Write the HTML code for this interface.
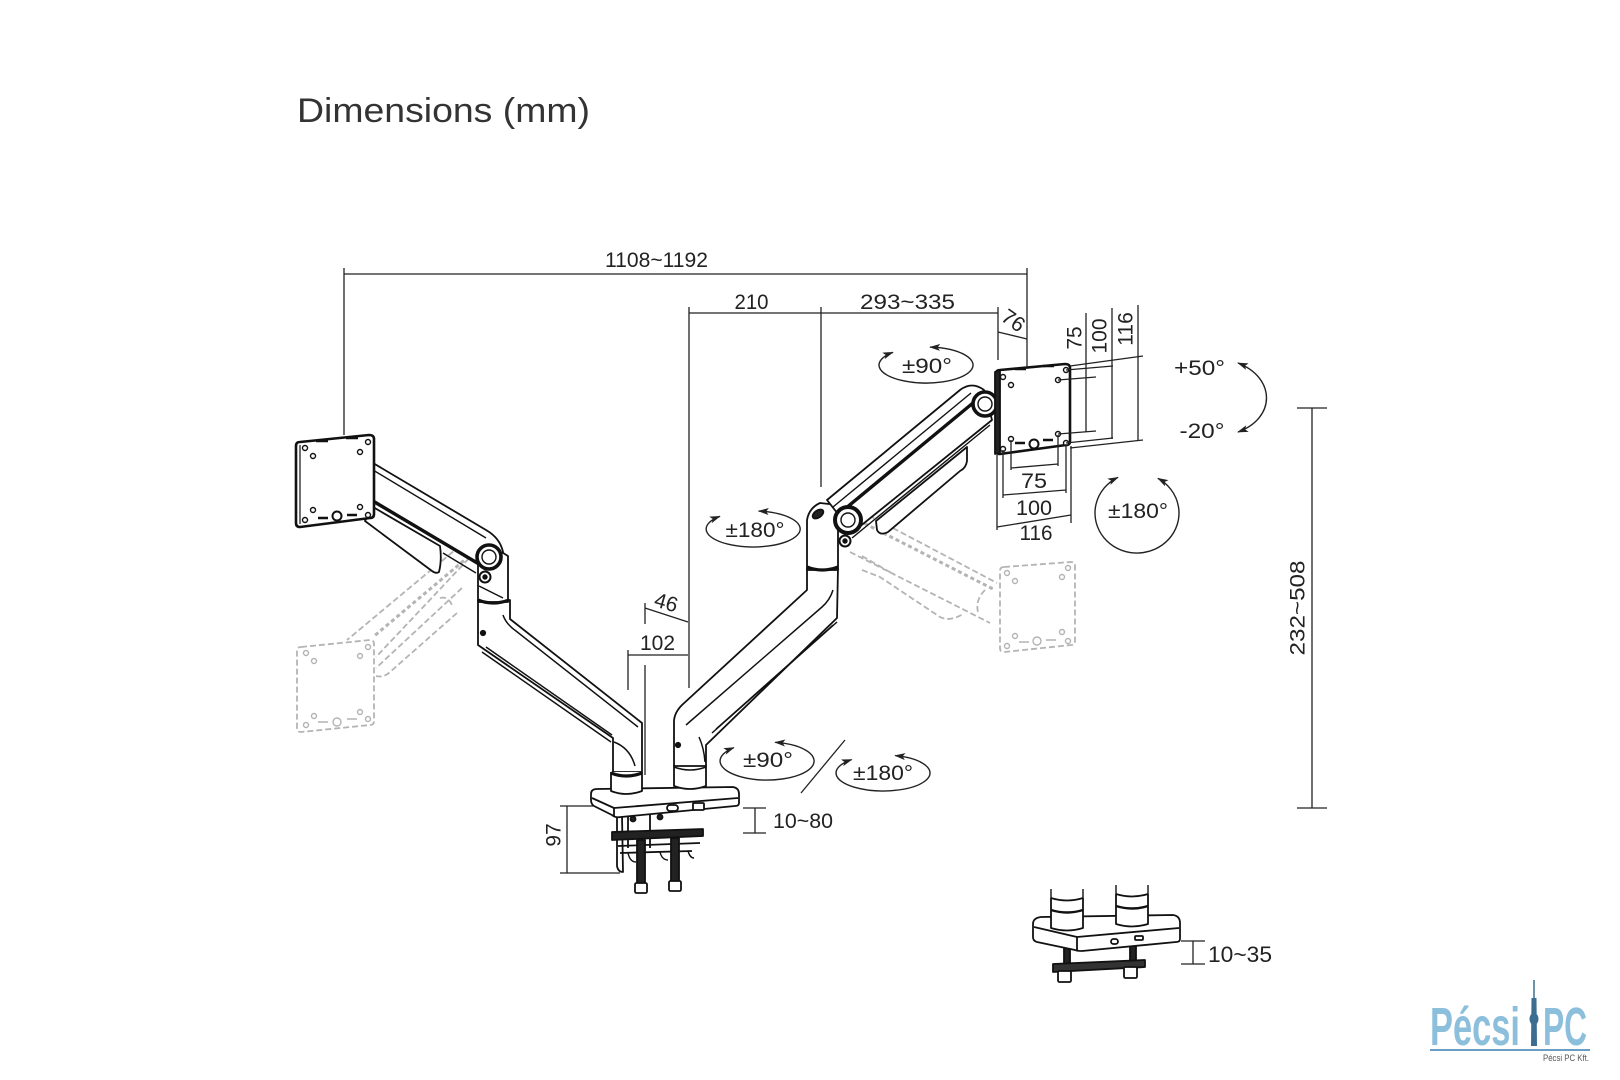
<!DOCTYPE html>
<html>
<head>
<meta charset="utf-8">
<style>
html,body{margin:0;padding:0;background:#fff;}
svg{display:block;}
text{font-family:"Liberation Sans",sans-serif;fill:#222;}
</style>
</head>
<body>
<svg width="1620" height="1080" viewBox="0 0 1620 1080" xmlns="http://www.w3.org/2000/svg">
<defs>
<marker id="ah" markerWidth="11" markerHeight="7" refX="10" refY="3.5" orient="auto-start-reverse" markerUnits="userSpaceOnUse">
<path d="M0,0 L11,3.5 L0,7 L2.5,3.5 Z" fill="#222"/>
</marker>
</defs>
<rect width="1620" height="1080" fill="#fff"/>

<!-- Title -->
<text x="297" y="122" font-size="34" textLength="293" lengthAdjust="spacingAndGlyphs" style="fill:#333">Dimensions (mm)</text>

<!-- ============ GHOSTS (dashed gray) ============ -->
<g fill="none" stroke="#b4b4b4" stroke-width="1.8" stroke-dasharray="6 3">
  <path d="M301,647 L370,640 Q374,640 374,644 L374,721 Q374,725 370,725 L301,732 Q297,732 297,728 L297,651 Q297,647 301,647 Z"/>
  <path d="M467,540 L347,640"/>
  <path d="M475,552 L376,657"/>
  <path d="M462,588 L376,668"/>
  <path d="M457,613 L390,672 Q384,678 376,676"/>
  <path d="M440,598 Q448,596 452,605"/>
  <path d="M1004,567 L1071,562 Q1075,562 1075,566 L1075,641 Q1075,645 1071,645 L1004,652 Q1000,652 1000,648 L1000,571 Q1000,567 1004,567 Z"/>
  <path d="M853,507 L997,583"/>
  <path d="M850,552 L990,623"/>
  <path d="M862,570 L880,577 L940,617 Q950,622 963,614"/>
  <path d="M862,556 L895,575"/>
  <path d="M985,590 Q975,600 978,612"/>
</g>
<g fill="none" stroke="#b4b4b4" stroke-width="3" stroke-dasharray="4 3">
  <path d="M480,547 L373,637"/>
  <path d="M852,517 L995,590"/>
</g>
<g fill="none" stroke="#b4b4b4" stroke-width="1.4">
  <circle cx="306" cy="653" r="2.5"/><circle cx="368" cy="647" r="2.5"/>
  <circle cx="314" cy="661" r="2.5"/><circle cx="360" cy="656" r="2.5"/>
  <circle cx="314" cy="716" r="2.5"/><circle cx="360" cy="712" r="2.5"/>
  <circle cx="306" cy="725" r="2.5"/><circle cx="368" cy="719" r="2.5"/>
  <path d="M318,722 h10 M347,719 h10"/><circle cx="337" cy="722" r="4"/>
  <circle cx="1007" cy="573" r="2.5"/><circle cx="1068" cy="568" r="2.5"/>
  <circle cx="1015" cy="581" r="2.5"/><circle cx="1062" cy="577" r="2.5"/>
  <circle cx="1015" cy="636" r="2.5"/><circle cx="1062" cy="632" r="2.5"/>
  <circle cx="1007" cy="646" r="2.5"/><circle cx="1068" cy="641" r="2.5"/>
  <path d="M1019,642 h10 M1046,640 h10"/><circle cx="1037" cy="641" r="4"/>
</g>

<!-- ============ BASE SLAB & CLAMP ============ -->
<g stroke="#111" stroke-width="1.8" fill="#fff" stroke-linejoin="round">
  <path d="M617,815 L617,866 Q618,872 623,872 L622,815" />
  <path d="M628,815 L628,848" fill="none"/>
  <path d="M650,815 L650,848" fill="none"/>
  <path d="M612,832 L703,829 L703,836 L612,840 Z" fill="#222"/>
  <path d="M618,846 L700,843 M620,853 L692,851" fill="none"/>
  <path d="M628,853 Q630,862 636,862 M660,852 Q662,860 668,860 M688,851 Q690,858 694,858" fill="none" stroke-width="1.4"/>
  <rect x="637" y="840" width="8" height="44" fill="#222"/>
  <rect x="671" y="838" width="8" height="44" fill="#222"/>
  <rect x="635" y="883" width="12" height="10" rx="1.5"/>
  <rect x="669" y="881" width="12" height="10" rx="1.5"/>
  <circle cx="633" cy="819" r="2.5" fill="#222"/>
  <circle cx="660" cy="817" r="2.5" fill="#222"/>
  <path d="M597,789 L733,787 Q739,788 739,794 L739,803 Q739,806 735,806 L621,817 Q615,818 612,815 L594,806 Q591,804 591,800 L591,794 Q591,789 597,789 Z"/>
  <path d="M592,798 L614,808 L738,798" fill="none"/>
  <path d="M614,808 L614,817" fill="none"/>
  <rect x="667" y="805" width="11" height="6" rx="3"/>
  <rect x="693" y="803" width="11" height="7" rx="1"/>
</g>

<!-- ============ LEFT ARM ============ -->
<g stroke="#111" stroke-width="1.8" fill="#fff" stroke-linejoin="round">
  <path d="M478,600 L478,645 L613,738 L613,772 L642,772 L642,723 L510,619 L510,600 Z"/>
  <path d="M503,615 Q506,624 516,631 L638,727" fill="none" stroke-width="1.5"/>
  <path d="M482,652 L611,742" fill="none" stroke-width="1.5"/>
  <path d="M486,647 L612,735" fill="none" stroke-width="1.5"/>
  <path d="M614,742 Q630,748 635,766" fill="none" stroke-width="1.5"/>
  <circle cx="483" cy="633" r="2.2" fill="#111"/>
  <path d="M611,772 L611,791 Q626,797 642,791 L642,772"/>
  <path d="M611,773 Q626,779 642,773" fill="none" stroke-width="3.2"/>
  <path d="M478,602 L478,560 L495,548 L508,556 L508,602 Z"/>
  <path d="M478,600 Q493,606 509,600" fill="none" stroke-width="3.2"/>
  <path d="M365,521 L373,507 L440,546 Q442,560 439,572 Q436,574 432,571 Z"/>
  <path d="M373,463 L486,530 Q500,538 503,552 L486,568 L373,502 Z"/>
  <path d="M373,470 L486,538" fill="none" stroke-width="1.4"/>
  <path d="M373,501 L484,567" fill="none" stroke-width="3.4"/>
  <path d="M443,553 L476,573 M479,586 L503,598" fill="none" stroke-width="1.4"/>
  <circle cx="489" cy="557" r="12" stroke-width="3.6"/>
  <circle cx="489" cy="557" r="7" stroke-width="1.4"/>
  <circle cx="485" cy="577" r="5.5" stroke-width="2"/>
  <circle cx="485" cy="577" r="1.8" fill="#111"/>
  <path d="M300,442 L369,435 Q374,435 374,439 L374,514 Q374,518 370,518 L300,527 Q296,527 296,523 L296,446 Q296,442 300,442 Z" stroke-width="2.6"/>
  <path d="M300,445 L300,524" fill="none" stroke-width="1.2"/>
  <path d="M316,441 h12 M346,438 h12" fill="none" stroke-width="2.4"/>
  <g stroke-width="1.4">
    <circle cx="305" cy="448" r="2.5"/><circle cx="368" cy="442" r="2.5"/>
    <circle cx="313" cy="456" r="2.5"/><circle cx="360" cy="452" r="2.5"/>
    <circle cx="313" cy="510" r="2.5"/><circle cx="360" cy="507" r="2.5"/>
    <circle cx="305" cy="520" r="2.5"/><circle cx="368" cy="515" r="2.5"/>
    <circle cx="337" cy="516" r="4.5" stroke-width="2"/>
  </g>
  <path d="M318,518 h10 M347,515 h10" fill="none" stroke-width="2.6"/>
</g>

<!-- ============ RIGHT ARM ============ -->
<g stroke="#111" stroke-width="1.8" fill="#fff" stroke-linejoin="round">
  <path d="M674,765 L674,786 Q690,792 706,786 L706,765"/>
  <path d="M807,568 L807,590 L682,705 Q674,713 674,722 L674,766 L706,766 L706,745 L837,618 L838,568 Z"/>
  <path d="M833,590 Q830,600 822,607 L686,725" fill="none" stroke-width="1.5"/>
  <path d="M837,622 L712,733" fill="none" stroke-width="1.5"/>
  <path d="M833,625 L716,729" fill="none" stroke-width="1.2"/>
  <path d="M699,737 Q704,748 705,762" fill="none" stroke-width="1.5"/>
  <path d="M674,767 Q690,773 706,767" fill="none" stroke-width="1.5"/>
  <circle cx="678" cy="745" r="2.2" fill="#111"/>
  <path d="M807,570 L807,520 Q809,508 820,503 L838,505 L838,570 Z"/>
  <path d="M807,567 Q822,573 838,567" fill="none" stroke-width="3.2"/>
  <ellipse cx="818" cy="514" rx="6" ry="3.5" transform="rotate(-35 818 514)" fill="#222"/>
  <path d="M876,521 L967,447 L967,461 Q966,468 960,471 L888,532 Q880,536 877,530 Z"/>
  <path d="M827,500 L960,390 Q972,381 984,390 L992,420 L853,532 L838,514 Z"/>
  <path d="M833,507 L971,393" fill="none" stroke-width="1.4"/>
  <path d="M840,513 L979,398" fill="none" stroke-width="3.4"/>
  <path d="M852,538 L990,425" fill="none" stroke-width="1.4"/>
  <circle cx="848" cy="520" r="13" stroke-width="4"/>
  <circle cx="848" cy="520" r="7" stroke-width="1.4"/>
  <circle cx="845" cy="541" r="5.5" stroke-width="2"/>
  <circle cx="845" cy="541" r="1.8" fill="#111"/>
  <circle cx="985" cy="404" r="12" stroke-width="3.6"/>
  <circle cx="985" cy="404" r="7" stroke-width="1.4"/>
  <path d="M1000,370 L1065,364 Q1070,364 1070,368 L1070,441 Q1070,445 1066,445 L1000,454 Q996,454 996,450 L996,374 Q996,370 1000,370 Z" stroke-width="2.6"/>
  <path d="M995,372 L1000,370 L1000,453 L995,454 Z" fill="#222"/>
  <path d="M1015,369 h11 M1043,366 h11" fill="none" stroke-width="2.4"/>
  <g stroke-width="1.4">
    <circle cx="1003" cy="377" r="2.5"/><circle cx="1066" cy="370" r="2.5"/>
    <circle cx="1011" cy="385" r="2.5"/><circle cx="1058" cy="380" r="2.5"/>
    <circle cx="1011" cy="439" r="2.5"/><circle cx="1058" cy="434" r="2.5"/>
    <circle cx="1003" cy="449" r="2.5"/><circle cx="1066" cy="443" r="2.5"/>
    <circle cx="1034" cy="444" r="4.5" stroke-width="2"/>
  </g>
  <path d="M1015,443 h10 M1043,440 h10" fill="none" stroke-width="2.6"/>
</g>

<!-- ============ SMALL BASE (bottom right) ============ -->
<g stroke="#111" stroke-width="1.8" fill="#fff" stroke-linejoin="round">
  <rect x="1064" y="948" width="6" height="18" fill="#222"/>
  <rect x="1130" y="944" width="6" height="20" fill="#222"/>
  <path d="M1053,964 L1145,960 L1145,967 L1053,972 Z" fill="#333"/>
  <rect x="1058" y="971" width="13" height="11" rx="1.5"/>
  <rect x="1124" y="967" width="13" height="11" rx="1.5"/>
  <!-- slab -->
  <path d="M1041,917 L1173,915 Q1180,916 1180,923 L1180,939 Q1180,942 1176,942 L1082,951 Q1077,951 1075,950 L1037,942 Q1033,941 1033,937 L1033,924 Q1033,918 1041,917 Z"/>
  <path d="M1034,927 L1077,937 L1179,928" fill="none"/>
  <path d="M1077,937 L1077,951" fill="none"/>
  <rect x="1111" y="939" width="7" height="5" rx="2.5"/>
  <rect x="1135" y="936" width="8" height="4" rx="1"/>
  <!-- posts -->
  <path d="M1051,898 L1051,928 Q1067,933 1083,928 L1083,898"/>
  <path d="M1051,898 Q1067,903 1083,898" fill="none"/>
  <path d="M1051,889 L1051,898 M1083,889 L1083,898" fill="none" stroke-width="1.4"/>
  <path d="M1051,910 Q1067,915 1083,910" fill="none" stroke-width="2.4"/>
  <path d="M1116,894 L1116,924 Q1132,929 1148,924 L1148,894"/>
  <path d="M1116,894 Q1132,899 1148,894" fill="none"/>
  <path d="M1116,885 L1116,894 M1148,885 L1148,894" fill="none" stroke-width="1.4"/>
  <path d="M1116,906 Q1132,911 1148,906" fill="none" stroke-width="2.4"/>
</g>

<!-- ============ DIMENSION LINES ============ -->
<g stroke="#222" stroke-width="1.3" fill="none">
  <path d="M344,274 L1027,274 M344,268 L344,435 M1027,268 L1027,367"/>
  <path d="M689,313 L998,313 M689,307 L689,688 M821,307 L821,487 M998,307 L998,360"/>
  <path d="M998,332 L1027,339"/>
  <path d="M645,603 L645,624 M645,608 L688,622"/>
  <path d="M628,655 L688,655 M628,650 L628,690 M645,665 L645,775"/>
  <path d="M1086,313 L1086,432 M1112,308 L1112,439 M1138,305 L1138,441"/>
  <path d="M1070,366 L1143,356 M1066,370 L1113,366 M1058,380 L1096,377"/>
  <path d="M1058,434 L1096,431 M1066,443 L1113,438 M1070,448 L1143,440"/>
  <path d="M1011,440 L1011,470 M1058,435 L1058,466 M1011,468 L1058,464"/>
  <path d="M1003,450 L1003,498 M1066,444 L1066,493 M1003,495 L1066,490"/>
  <path d="M997,455 L997,530 M1071,446 L1071,523 M997,527 L1071,515"/>
  <path d="M1312,408 L1312,808 M1297,408 L1327,408 M1297,808 L1327,808"/>
  <path d="M567,806 L567,873 M560,806 L593,806 M560,873 L620,873"/>
  <path d="M755,808 L755,833 M743,808 L766,808 M743,833 L766,833"/>
  <path d="M1193,941 L1193,964 M1181,941 L1205,941 M1181,964 L1205,964"/>
  <path d="M845,740 L801,793"/>
</g>

<!-- ============ ROTATION ARROWS ============ -->
<g stroke="#222" stroke-width="1.4" fill="none" marker-start="url(#ah)" marker-end="url(#ah)">
  <path d="M930.1,347.1 A47,18 0 1 1 892.8,352.3"/>
  <path d="M758.7,511.1 A47,18 0 1 1 719.8,516.3"/>
  <path d="M775.2,742.3 A47,19 0 1 1 733.8,747.6"/>
  <path d="M895.2,755.6 A47,18 0 1 1 851.6,759.6"/>
  <path d="M1158,478.4 A42,40 0 1 1 1117.9,477.4"/>
  <path d="M1238,363 C1276,378 1276,418 1238,432"/>
</g>

<!-- ============ LABELS ============ -->
<g font-size="21">
  <text x="656.5" y="267" text-anchor="middle" textLength="103" lengthAdjust="spacingAndGlyphs">1108~1192</text>
  <text x="751.5" y="309" text-anchor="middle" textLength="34" lengthAdjust="spacingAndGlyphs">210</text>
  <text x="907.5" y="309" text-anchor="middle" textLength="95" lengthAdjust="spacingAndGlyphs">293~335</text>
  <text x="927" y="373" text-anchor="middle" textLength="50" lengthAdjust="spacingAndGlyphs">±90°</text>
  <text x="755" y="537" text-anchor="middle" textLength="59" lengthAdjust="spacingAndGlyphs">±180°</text>
  <text x="768" y="767" text-anchor="middle" textLength="50" lengthAdjust="spacingAndGlyphs">±90°</text>
  <text x="883" y="780" text-anchor="middle" textLength="60" lengthAdjust="spacingAndGlyphs">±180°</text>
  <text x="1138" y="518" text-anchor="middle" textLength="60" lengthAdjust="spacingAndGlyphs">±180°</text>
  <text x="1199.5" y="375" text-anchor="middle" textLength="51" lengthAdjust="spacingAndGlyphs">+50°</text>
  <text x="1202" y="438" text-anchor="middle" textLength="45" lengthAdjust="spacingAndGlyphs">-20°</text>
  <text x="1034" y="488" text-anchor="middle" textLength="26" lengthAdjust="spacingAndGlyphs">75</text>
  <text x="1034" y="515" text-anchor="middle" textLength="36" lengthAdjust="spacingAndGlyphs">100</text>
  <text x="1036" y="540" text-anchor="middle" textLength="33" lengthAdjust="spacingAndGlyphs">116</text>
  <text x="657.5" y="650" text-anchor="middle" textLength="35" lengthAdjust="spacingAndGlyphs">102</text>
  <text x="803" y="828" text-anchor="middle" textLength="60" lengthAdjust="spacingAndGlyphs">10~80</text>
  <text x="1240" y="962" text-anchor="middle" font-size="22" textLength="64" lengthAdjust="spacingAndGlyphs">10~35</text>
  <text x="0" y="0" text-anchor="middle" dominant-baseline="central" transform="translate(666,603) rotate(16)">46</text>
  <text x="0" y="0" text-anchor="middle" dominant-baseline="central" transform="translate(1013,321) rotate(35)">76</text>
  <text x="0" y="0" text-anchor="middle" dominant-baseline="central" transform="translate(1075,338) rotate(-90)">75</text>
  <text x="0" y="0" text-anchor="middle" dominant-baseline="central" transform="translate(1100,336) rotate(-90)">100</text>
  <text x="0" y="0" text-anchor="middle" dominant-baseline="central" transform="translate(1126,329) rotate(-90)">116</text>
  <text x="0" y="0" text-anchor="middle" dominant-baseline="central" transform="translate(554,835) rotate(-90)">97</text>
  <text x="0" y="0" text-anchor="middle" dominant-baseline="central" textLength="95" lengthAdjust="spacingAndGlyphs" transform="translate(1298,608) rotate(-90)">232~508</text>
</g>

<!-- ============ LOGO ============ -->
<g>
  <text x="1430" y="1045" font-size="54" font-weight="bold" textLength="90" lengthAdjust="spacingAndGlyphs" style="fill:#8cbfdc">Pécsi</text>
  <text x="1543" y="1045" font-size="54" font-weight="bold" textLength="44" lengthAdjust="spacingAndGlyphs" style="fill:#8cbfdc">PC</text>
  <path d="M1534,980 L1534,1046" stroke="#3c6e91" stroke-width="1.5"/>
  <path d="M1531.5,998 L1536.5,998 L1537,1046 L1531,1046 Z" fill="#3c6e91"/>
  <ellipse cx="1534" cy="1019" rx="4.5" ry="6" fill="#3c6e91"/>
  <path d="M1430,1050 L1590,1050" stroke="#6b9ec4" stroke-width="2"/>
  <text x="1543" y="1061" font-size="9" textLength="46" lengthAdjust="spacingAndGlyphs" style="fill:#555">Pécsi PC Kft.</text>
</g>
</svg>
</body>
</html>
